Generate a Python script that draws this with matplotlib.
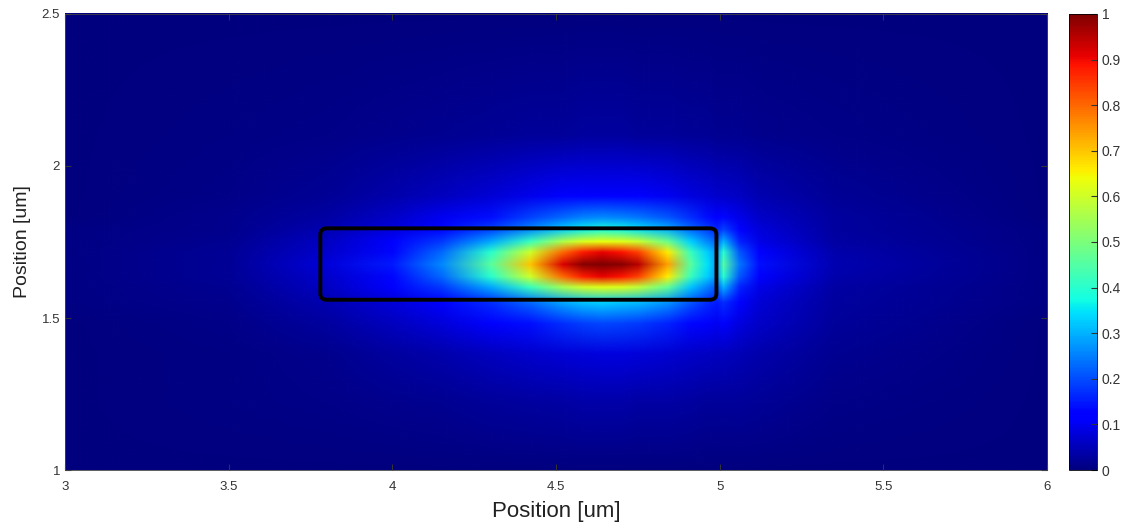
import matplotlib
matplotlib.use("Agg")
import matplotlib.pyplot as plt
import numpy as np
from matplotlib.image import NonUniformImage
from matplotlib.patches import FancyBboxPatch

plt.rcParams['font.family'] = ['Liberation Sans', 'DejaVu Sans']

x_nodes = [3.0, 3.5, 3.8, 4.0, 4.15, 4.3, 4.42, 4.52, 4.58, 4.64, 4.70, 4.75,
           4.84, 4.91, 4.96, 4.99, 5.01, 5.06, 5.12, 5.35, 6.0]
y_nodes = [1.0, 1.22, 1.38, 1.48, 1.55, 1.60, 1.635, 1.675, 1.715, 1.75, 1.79,
           1.83, 1.9, 2.1, 2.5]

# normalised intensity, one row per y node (bottom to top)
field = [
    [.002, .002, .002, .002, .002, .002, .002, .002, .002, .002, .002, .002, .002, .002, .002, .002, .002, .002, .002, .002, .002],
    [.002, .004, .008, .013, .018, .024, .03, .034, .036, .037, .036, .035, .032, .029, .027, .026, .026, .024, .02, .01, .002],
    [.002, .006, .015, .03, .042, .055, .067, .077, .082, .085, .083, .08, .073, .065, .06, .057, .057, .05, .04, .018, .002],
    [.003, .01, .03, .055, .08, .11, .14, .17, .185, .195, .19, .18, .16, .13, .11, .10, .11, .085, .065, .025, .003],
    [.004, .015, .045, .08, .12, .17, .23, .29, .32, .33, .32, .31, .27, .21, .17, .15, .17, .12, .075, .03, .004],
    [.005, .018, .06, .11, .18, .29, .42, .55, .60, .62, .61, .58, .47, .32, .25, .21, .30, .16, .09, .035, .004],
    [.005, .02, .07, .13, .23, .40, .60, .80, .88, .91, .89, .84, .66, .42, .33, .27, .40, .21, .12, .04, .004],
    [.005, .02, .08, .15, .26, .46, .70, .92, .99, 1.0, .99, .95, .74, .46, .35, .28, .45, .24, .14, .045, .005],
    [.005, .02, .07, .13, .23, .40, .60, .80, .88, .91, .89, .84, .66, .42, .33, .27, .40, .21, .12, .04, .004],
    [.005, .018, .06, .11, .18, .29, .42, .56, .61, .63, .62, .59, .48, .33, .26, .22, .30, .16, .09, .035, .004],
    [.004, .015, .045, .085, .13, .19, .26, .33, .36, .38, .37, .35, .30, .23, .19, .16, .19, .12, .08, .03, .004],
    [.003, .012, .035, .065, .10, .14, .19, .23, .25, .26, .25, .24, .21, .17, .14, .12, .13, .09, .065, .028, .003],
    [.003, .008, .022, .04, .055, .075, .095, .11, .12, .125, .12, .115, .10, .085, .075, .07, .07, .06, .045, .02, .003],
    [.002, .004, .008, .012, .016, .02, .024, .027, .028, .029, .028, .027, .025, .022, .02, .019, .019, .017, .014, .008, .002],
    [.002, .002, .002, .002, .002, .002, .002, .002, .002, .002, .002, .002, .002, .002, .002, .002, .002, .002, .002, .002, .002],
]

# waveguide core outline (um)
core_x = [3.78, 4.99]
core_y = [1.56, 1.795]

x_ticks = [3, 3.5, 4, 4.5, 5, 5.5, 6]
y_ticks = [1, 1.5, 2, 2.5]
cbar_ticks = [0, 0.1, 0.2, 0.3, 0.4, 0.5, 0.6, 0.7, 0.8, 0.9, 1]


def main():
    fig = plt.figure(figsize=(11.25, 5.22), dpi=100)
    ax = fig.add_axes([0.0578, 0.0996, 0.8729, 0.8736])
    cax = fig.add_axes([0.9502, 0.0996, 0.0249, 0.8736])

    im = NonUniformImage(ax, interpolation='bilinear', extent=(3, 6, 1, 2.5), cmap='jet')
    im.set_data(np.array(x_nodes), np.array(y_nodes), np.array(field))
    im.set_clim(0, 1)
    ax.add_image(im)
    ax.set_xlim(3, 6)
    ax.set_ylim(1, 2.5)

    core = FancyBboxPatch((core_x[0], core_y[0]), core_x[1] - core_x[0], core_y[1] - core_y[0],
                          boxstyle="round,pad=0,rounding_size=0.02",
                          fill=False, edgecolor='black', linewidth=2.8)
    ax.add_patch(core)

    ax.set_xticks(x_ticks)
    ax.set_xticklabels([f"{t:g}" for t in x_ticks])
    ax.set_yticks(y_ticks)
    ax.set_yticklabels([f"{t:g}" for t in y_ticks])
    ax.tick_params(direction='in', length=4, labelsize=9.5, colors='#333333',
                   top=True, right=True)
    ax.tick_params(axis='x', pad=8)
    ax.set_xlabel("Position [um]", fontsize=16, color='#222222', labelpad=6)
    ax.set_ylabel("Position [um]", fontsize=14, color='#222222', labelpad=8)
    for s in ax.spines.values():
        s.set_linewidth(0.6)
        s.set_color('#444444')

    cb = fig.colorbar(im, cax=cax, ticks=cbar_ticks)
    cb.ax.set_yticklabels([f"{t:g}" for t in cbar_ticks])
    cb.ax.tick_params(direction='in', length=4, labelsize=10, colors='#333333')
    cb.outline.set_linewidth(0.6)

    fig.savefig("out.png", dpi=100)


if __name__ == "__main__":
    main()
